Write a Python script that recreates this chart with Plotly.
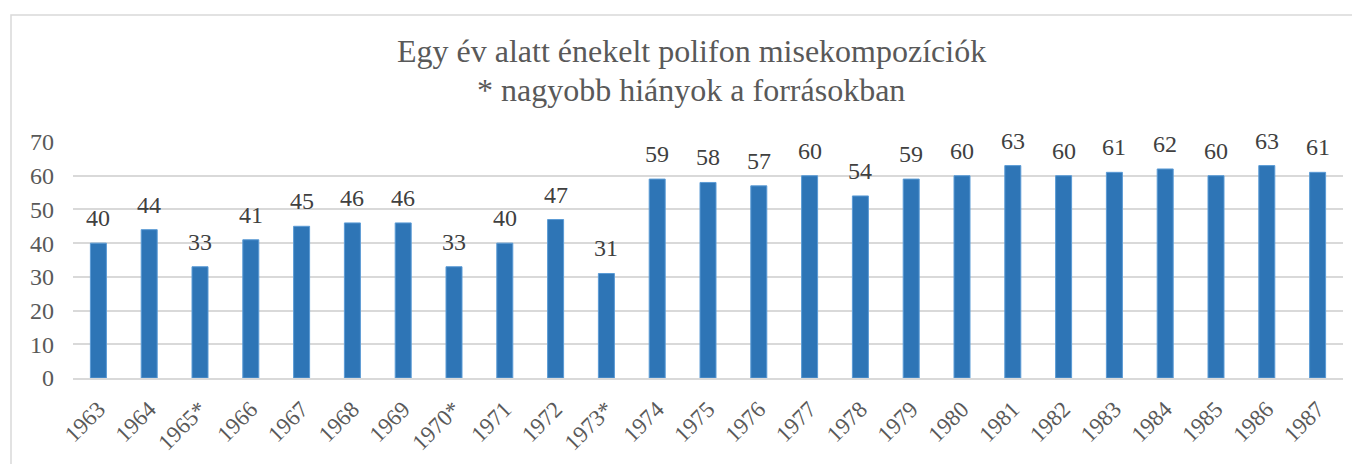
import plotly.graph_objects as go

years = ["1963", "1964", "1965*", "1966", "1967", "1968", "1969", "1970*", "1971", "1972",
         "1973*", "1974", "1975", "1976", "1977", "1978", "1979", "1980", "1981", "1982",
         "1983", "1984", "1985", "1986", "1987"]
values = [40, 44, 33, 41, 45, 46, 46, 33, 40, 47, 31, 59, 58, 57, 60, 54, 59, 60, 63, 60,
          61, 62, 60, 63, 61]
y_ticks = [0, 10, 20, 30, 40, 50, 60, 70]
title_lines = ["Egy év alatt énekelt polifon misekompozíciók", "* nagyobb hiányok a forrásokban"]

FONT = "Liberation Serif, Times New Roman, serif"

# page body has an 8px margin; figure sized so it fills the 1360x464 window below that offset
OFF = 8
W, H = 1360 - 2 * OFF, 464 - OFF
L, T = 73 - OFF, 142 - OFF
R = W - (1343 - OFF)
B = H - (378 - OFF)
pw, ph = W - L - R, H - T - B
plot_bottom = H - B

fig = go.Figure()
fig.add_trace(go.Bar(
    x=years, y=values,
    marker=dict(color="#2E75B6", line=dict(color="#5B9BD5", width=1)),
    hoverinfo="x+y",
))

annotations = []
# category axis: annotation x given as the category's serial index
for i, v in enumerate(values):
    annotations.append(dict(
        x=i, y=v, xref="x", yref="y", text=str(v), showarrow=False,
        yanchor="bottom", xanchor="center", yshift=10,
        font=dict(family=FONT, size=24, color="#404040"),
    ))

title_baselines = [63 - OFF, 102 - OFF]
title_x = (691 - 73) / pw
for line, base in zip(title_lines, title_baselines):
    annotations.append(dict(
        x=title_x, xref="paper", yref="paper", y=(plot_bottom - (base + 8)) / ph,
        text=line, showarrow=False, xanchor="center", yanchor="bottom",
        font=dict(family=FONT, size=32, color="#595959"),
    ))

fig.update_layout(
    width=W, height=H,
    margin=dict(l=L, r=R, t=T, b=B),
    paper_bgcolor="white", plot_bgcolor="white",
    bargap=0.685,
    showlegend=False,
    annotations=annotations,
    xaxis=dict(
        type="category", categoryorder="array", categoryarray=years,
        range=[-0.5, len(years) - 0.5],
        tickangle=-45, tickfont=dict(family=FONT, size=23, color="#595959"),
        showgrid=False, showline=True, linecolor="#D9D9D9", linewidth=1.5,
        ticks="", automargin=False, ticklabelstandoff=7,
    ),
    yaxis=dict(
        range=[0, 70], tickvals=y_ticks,
        tickfont=dict(family=FONT, size=24, color="#595959"),
        showgrid=True, gridcolor="#D9D9D9", gridwidth=1.5,
        zeroline=False, showline=False, ticks="", automargin=False,
        ticklabelstandoff=18,
    ),
    shapes=[dict(
        type="rect", xref="paper", yref="paper",
        x0=(11 - OFF - L) / pw, x1=(W + 20 - L) / pw,
        y0=-(H + 20 - plot_bottom) / ph, y1=(plot_bottom - (15 - OFF)) / ph,
        line=dict(color="#D9D9D9", width=1.5), fillcolor="rgba(0,0,0,0)", layer="below",
    )],
)

fig.write_html("out.html")
